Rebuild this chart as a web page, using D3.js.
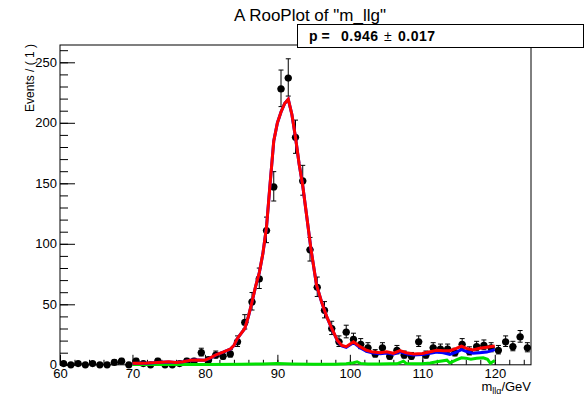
<!DOCTYPE html>
<html><head><meta charset="utf-8">
<script src="https://cdn.jsdelivr.net/npm/d3@7"></script>
<style>body{margin:0;background:#fff}svg{display:block}text{font-family:"Liberation Sans",Arial,sans-serif}</style>
</head><body><svg id="c" width="588" height="394"></svg>
<script>
// ---- data ----
const binCenters = d3.range(60.5, 125, 1);
const counts = [1,0,1,0,1,0,0,2,3,0, 3,1,0,3,0,0,1,3,3,10, 4,8,7,9,19,35,52,71,111,147,
  228,237,188,152,95,64,45,30,19,27, 21,17,14,9,14,7,12,8,7,19, 8,14,13,13,10,17,11,15,16,14,
  12,19,15,23,14];
const redX = [70,71,72,73,74,75,76,77,78,79,80,80.5,81,81.6,82.5,83.5,84,84.5,85,85.5,86,86.5,87,87.5,88,88.5,89,89.5,90,90.5,91,91.5,92,92.5,93,93.5,94,94.65,95.4,96.1,96.8,97.5,98.3,98.9,99.5,100,100.5,101.4,102.3,103.2,104.2,105.1,106,106.9,107.8,108.8,110,111.1,112,112.9,113.8,114.7,115.4,116.1,117,117.9,118.9,120];
const redY = [1.2,1.3,1.4,1.8,2.2,2.5,2,2.6,3.8,4,3.8,5,6.5,8.5,10.5,13,16,22,26,30,40,52,65,76,92,114,150,185,200,209,216,219.5,207,188,166,148,125,95,66,52,40,30,20,16,15,17,19,15,12,10.5,10,10.8,9.5,11.7,10,8.9,9.3,10.8,12,11.7,11.7,13.6,15.5,13.6,12.2,13.6,14.5,15.5];
const blueY = [1.1,1.2,1.3,1.7,2.1,2.4,1.9,2.5,3.7,3.9,3.7,4.9,6.4,8.4,10.4,12.9,15.9,21.9,25.9,29.9,39.9,51.9,64.9,75.9,91.9,113.9,149.9,184.9,199.9,208.9,215.9,219.4,206.9,187.9,165.9,147.9,124.9,94.9,65.9,51.9,39.9,29.8,19.7,15.6,14.5,16.4,18.3,14.2,11.2,9.7,9.2,9.8,8.7,10.7,9.2,8.1,8.5,9.5,10.5,10,8.5,10.5,12.5,11,9.5,10,10.5,12.5];
const greenX = [70,75,80,85,88,90,92,95,98,99.5,100.5,101,101.5,102.5,104,105.5,106.5,107.4,107.8,109,110,111.1,112,113.4,113.8,114.7,115.4,116,116.7,117.5,118.4,119,119.4,120];
const greenY = [0.3,0.3,0.3,0.4,0.7,1,0.7,0.5,0.5,0.8,1.7,2.5,1,0.6,0.6,0.8,0.8,3,1,0.8,0.9,1.5,2.5,3.8,1.5,4,5.8,5.5,4.6,5.4,5.8,4.5,1.3,3.5];
const xMajorTicks = [60,70,80,90,100,110,120];
const yMajorTicks = [0,50,100,150,200,250];
const titleText = 'A RooPlot of "m_llg"';
const yTitle = 'Events / ( 1 )';
const statLabel = 'p =', statVal = '0.946', statErr = '0.017';

// ---- layout ----
const svg = d3.select('#c');
const L=60, R=531, T=45, B=364.8;
const x = d3.scaleLinear().domain([60,125]).range([L,R]);
const y = d3.scaleLinear().domain([0,264.3]).range([B,T]);

// frame
svg.append('rect').attr('x',L).attr('y',T).attr('width',R-L).attr('height',B-T)
  .attr('fill','none').attr('stroke','#000').attr('stroke-width',1);

// x axis
const gx = svg.append('g').attr('transform',`translate(0,${B})`);
gx.call(d3.axisBottom(x).tickValues(d3.range(60,125.1,2)).tickSizeInner(-5).tickSizeOuter(0).tickFormat(''));
const gx2 = svg.append('g').attr('transform',`translate(0,${B})`);
gx2.call(d3.axisBottom(x).tickValues(xMajorTicks).tickSizeInner(-10).tickSizeOuter(0).tickPadding(4));
[gx,gx2].forEach(g=>{g.select('.domain').remove();});
gx2.selectAll('text').attr('font-size',13).attr('fill','#000').style('font-family','"Liberation Sans",Arial,sans-serif');

// y axis
const gy = svg.append('g').attr('transform',`translate(${L},0)`);
gy.call(d3.axisLeft(y).tickValues(d3.range(0,261,10)).tickSizeInner(-8).tickSizeOuter(0).tickFormat(''));
const gy2 = svg.append('g').attr('transform',`translate(${L},0)`);
gy2.call(d3.axisLeft(y).tickValues(yMajorTicks).tickSizeInner(-15).tickSizeOuter(0).tickPadding(3));
[gy,gy2].forEach(g=>{g.select('.domain').remove();});
gy2.selectAll('text').attr('font-size',13).attr('fill','#000').style('font-family','"Liberation Sans",Arial,sans-serif');
svg.selectAll('.tick line').attr('stroke','#000');

// data points with Poisson-style error bars
const gd = svg.append('g');
binCenters.forEach((c,i)=>{
  const n = counts[i];
  const s = Math.sqrt(n+0.25);
  const hi = n + s + 0.5, lo = Math.max(0, n - s + 0.5);
  const px = x(c);
  gd.append('line').attr('x1',px).attr('x2',px).attr('y1',y(lo)).attr('y2',y(hi)).attr('stroke','#000').attr('stroke-width',1);
  gd.append('line').attr('x1',px-2.5).attr('x2',px+2.5).attr('y1',y(hi)).attr('y2',y(hi)).attr('stroke','#000');
  gd.append('line').attr('x1',px-2.5).attr('x2',px+2.5).attr('y1',y(lo)).attr('y2',y(lo)).attr('stroke','#000');
  gd.append('line').attr('x1',x(c-0.5)).attr('x2',x(c+0.5)).attr('y1',y(n)).attr('y2',y(n)).attr('stroke','#000');
  gd.append('circle').attr('cx',px).attr('cy',y(n)).attr('r',3.6).attr('fill','#000');
});

// curves
const line = d3.line().x(d=>x(d[0])).y(d=>y(d[1]));
svg.append('path').attr('d',line(greenX.map((v,i)=>[v,greenY[i]]))).attr('fill','none').attr('stroke','#00e000').attr('stroke-width',3);
svg.append('path').attr('d',line(redX.map((v,i)=>[v,blueY[i]]))).attr('fill','none').attr('stroke','#0000ff').attr('stroke-width',3);
svg.append('path').attr('d',line(redX.map((v,i)=>[v,redY[i]]))).attr('fill','none').attr('stroke','#ff0000').attr('stroke-width',3);

// title
svg.append('text').attr('x',310).attr('y',21).attr('text-anchor','middle').attr('font-size',17).text(titleText);

// stats box
svg.append('rect').attr('x',297.5).attr('y',24.5).attr('width',286).attr('height',23).attr('fill','#fff').attr('stroke','#000');
const st = svg.append('g').attr('font-size',14).attr('font-weight','bold');
st.append('text').attr('x',309).attr('y',41).text(statLabel);
st.append('text').attr('x',341).attr('y',41).attr('textLength',37).text(statVal);
st.append('text').attr('x',384).attr('y',41).attr('font-weight','normal').text('±');
st.append('text').attr('x',398).attr('y',41).attr('textLength',37).text(statErr);

// axis titles
svg.append('text').attr('transform','translate(34,44) rotate(-90)').attr('text-anchor','end').attr('font-size',12).text(yTitle);
const xt = svg.append('text').attr('x',531).attr('y',391).attr('text-anchor','end').attr('font-size',13);
xt.append('tspan').text('m');
xt.append('tspan').attr('font-size',9).attr('dy',2.5).text('llg');
xt.append('tspan').attr('dy',-2.5).text('/GeV');
</script></body></html>
